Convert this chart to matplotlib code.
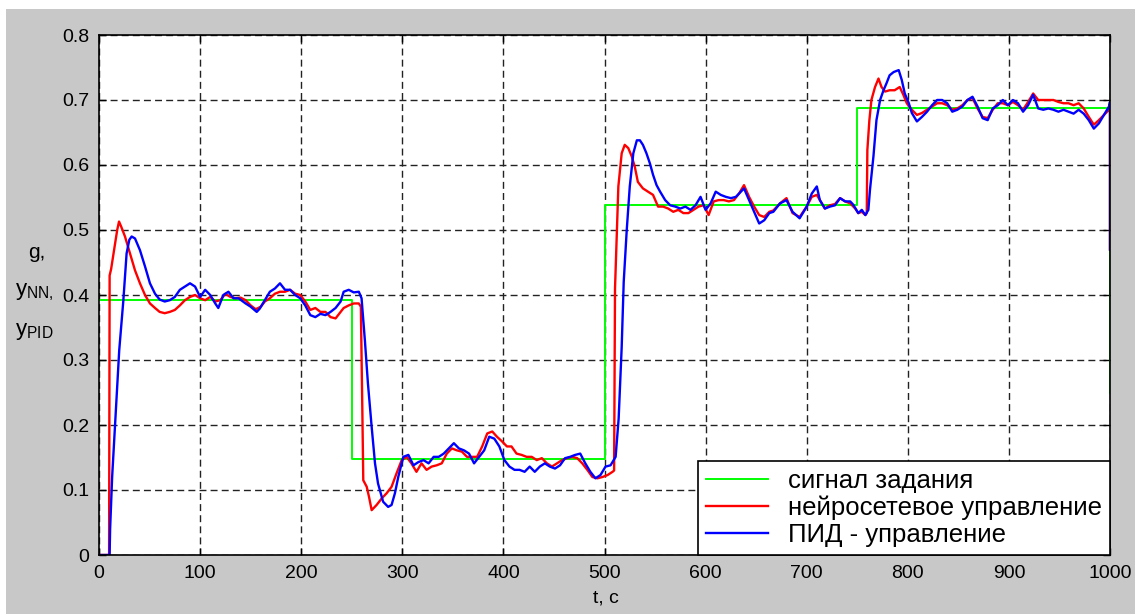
import numpy as np
import matplotlib
matplotlib.use('Agg')
import matplotlib.pyplot as plt
from matplotlib.patches import Rectangle

plt.rcParams['font.family'] = ['Liberation Sans', 'DejaVu Sans']

# setpoint (сигнал задания), step function
t_sp = [0, 250, 500, 750, 1000]
y_sp = [0.392, 0.148, 0.538, 0.688, 0.25]

# neural-network control response
t_nn = [0, 10, 10.5, 12, 14, 16, 18, 19.8, 22, 25.7, 30.7, 35.6, 40.5, 45.5, 50.4, 55.4,
        60, 65, 70, 75, 80, 85, 90, 95, 100, 105, 110, 115, 120, 125, 130, 135, 140, 145,
        150, 155, 160, 164, 169, 174, 179, 184, 189, 194, 199, 204, 209, 214, 219, 224,
        229, 234, 239, 242, 247, 252, 257, 259, 259.8, 260.5, 261.4, 264.8, 267, 269.7,
        274.6, 279.6, 284.5, 289.4, 294.4, 299.4, 304.3, 309, 314, 319, 324, 329, 334,
        339, 344, 349, 354, 359, 364, 369, 374, 379, 384, 389, 393.6, 398.5, 403.5, 408,
        413, 418, 423, 428, 433, 438, 443, 448, 453, 458, 463, 468, 473, 478, 483, 488,
        493, 498, 503, 508, 509.5, 510.4, 513.7, 517, 520, 523.5, 527, 530, 533, 538,
        543, 548, 553, 558, 563, 568, 573, 578, 583, 588, 593, 598, 603, 608, 613, 618,
        623, 628, 633, 638, 643, 648, 653, 658, 663, 667, 673.6, 680, 686, 693, 700, 705,
        710, 713, 718, 723, 728, 733, 738, 743, 748, 751, 754.5, 758, 759.4, 760, 762,
        764, 767.6, 771, 774, 777.5, 782, 787, 792, 795.6, 799, 804, 809, 814, 819, 824,
        829, 834, 839, 844, 849, 854, 859, 864, 869, 874, 879, 884, 889, 894, 899, 904,
        909, 914, 919, 924, 929, 934, 939, 944, 949, 954, 959, 964, 969, 974, 979, 984,
        989, 994, 999, 1000, 1000]
y_nn = [0, 0, 0.43, 0.44, 0.46, 0.48, 0.50, 0.513, 0.505, 0.49, 0.464, 0.438, 0.418, 0.40,
        0.387, 0.38, 0.374, 0.372, 0.374, 0.377, 0.384, 0.392, 0.397, 0.40, 0.395, 0.392,
        0.397, 0.39, 0.392, 0.402, 0.397, 0.395, 0.396, 0.392, 0.384, 0.378, 0.382, 0.39,
        0.395, 0.402, 0.405, 0.405, 0.408, 0.402, 0.40, 0.39, 0.377, 0.38, 0.374, 0.374,
        0.366, 0.364, 0.374, 0.38, 0.384, 0.387, 0.387, 0.382, 0.30, 0.22, 0.115, 0.105,
        0.09, 0.069, 0.077, 0.087, 0.095, 0.105, 0.126, 0.146, 0.151, 0.141, 0.128, 0.141,
        0.131, 0.136, 0.138, 0.141, 0.156, 0.164, 0.161, 0.159, 0.151, 0.151, 0.151, 0.167,
        0.187, 0.19, 0.182, 0.175, 0.167, 0.167, 0.156, 0.154, 0.151, 0.151, 0.146, 0.149,
        0.141, 0.136, 0.141, 0.146, 0.149, 0.151, 0.149, 0.141, 0.131, 0.12, 0.118, 0.12,
        0.123, 0.128, 0.13, 0.41, 0.567, 0.618, 0.631, 0.626, 0.613, 0.597, 0.574, 0.564,
        0.559, 0.554, 0.536, 0.536, 0.533, 0.528, 0.531, 0.526, 0.526, 0.531, 0.536, 0.538,
        0.523, 0.544, 0.546, 0.546, 0.544, 0.546, 0.556, 0.569, 0.551, 0.536, 0.523, 0.52,
        0.528, 0.53, 0.541, 0.549, 0.526, 0.52, 0.536, 0.551, 0.554, 0.546, 0.533, 0.538,
        0.54, 0.549, 0.544, 0.541, 0.533, 0.526, 0.528, 0.523, 0.526, 0.623, 0.669, 0.70,
        0.72, 0.733, 0.72, 0.713, 0.715, 0.715, 0.72, 0.708, 0.695, 0.685, 0.677, 0.68,
        0.685, 0.69, 0.695, 0.695, 0.692, 0.685, 0.687, 0.692, 0.70, 0.703, 0.687, 0.674,
        0.672, 0.685, 0.695, 0.695, 0.692, 0.697, 0.692, 0.685, 0.697, 0.71, 0.70, 0.70,
        0.70, 0.70, 0.697, 0.695, 0.695, 0.692, 0.695, 0.687, 0.674, 0.662, 0.669, 0.677,
        0.685, 0.69, 0.47]

# PID control response
t_pid = [0, 10.5, 11, 13, 15.8, 18, 20, 22.4, 24, 27.3, 30, 32.3, 35.6, 40.5, 45.5, 50.4,
         55.4, 60, 65, 70, 75, 80, 85, 90, 95, 100, 105, 110, 115, 118, 123, 128, 133, 138,
         145, 150, 156, 159, 164, 169, 174, 179, 184, 189, 194, 199, 204, 209, 214, 219,
         224, 229, 234, 239, 242, 247, 252, 257, 259.7, 263, 266, 269.7, 273, 276, 281,
         286, 289.4, 292.7, 296, 301, 306, 311, 316, 321, 326, 331, 336, 341, 346, 351,
         356, 361, 366, 371, 376, 381, 386, 391, 396, 401, 406, 411, 416, 421, 426, 431,
         436, 441, 446, 451, 456, 461, 466, 471, 476, 481, 486, 491, 496, 501, 506, 511,
         514, 517, 519, 522, 525, 528.5, 532, 535, 538, 541.5, 545, 548, 551.5, 555, 560,
         565, 570, 575, 580, 585, 590, 595, 600, 605, 610, 615, 620, 625, 630, 635, 638,
         643, 648, 653, 658, 663, 667, 673.6, 680, 686, 693, 700, 705, 710, 713, 718, 723,
         728, 733, 738, 743, 746, 751, 754.5, 758, 761, 762.6, 766, 769, 772.6, 776, 779,
         782, 786, 791, 794, 797, 801, 804, 809, 814, 819, 824, 829, 834, 839, 844, 849,
         854, 859, 864, 869, 874, 879, 884, 889, 894, 899, 904, 909, 914, 919, 924, 929,
         934, 939, 944, 949, 954, 959, 964, 969, 974, 979, 984, 989, 994, 999, 1000, 1000]
y_pid = [0, 0, 0.04, 0.12, 0.197, 0.26, 0.315, 0.36, 0.39, 0.464, 0.485, 0.49, 0.487,
         0.469, 0.444, 0.418, 0.402, 0.393, 0.39, 0.392, 0.397, 0.408, 0.413, 0.418, 0.413,
         0.397, 0.408, 0.40, 0.387, 0.38, 0.40, 0.405, 0.395, 0.395, 0.387, 0.382, 0.374,
         0.379, 0.392, 0.405, 0.41, 0.418, 0.408, 0.408, 0.40, 0.395, 0.384, 0.369, 0.366,
         0.371, 0.369, 0.374, 0.38, 0.39, 0.405, 0.408, 0.404, 0.405, 0.395, 0.33, 0.264,
         0.197, 0.141, 0.11, 0.082, 0.074, 0.077, 0.095, 0.12, 0.151, 0.154, 0.138, 0.143,
         0.146, 0.141, 0.151, 0.151, 0.156, 0.164, 0.172, 0.164, 0.161, 0.156, 0.141, 0.151,
         0.161, 0.182, 0.179, 0.167, 0.146, 0.136, 0.131, 0.131, 0.128, 0.136, 0.128, 0.136,
         0.141, 0.136, 0.133, 0.138, 0.149, 0.151, 0.154, 0.156, 0.141, 0.128, 0.118, 0.123,
         0.136, 0.138, 0.151, 0.21, 0.32, 0.42, 0.50, 0.567, 0.618, 0.638, 0.638, 0.631,
         0.618, 0.602, 0.585, 0.569, 0.559, 0.546, 0.538, 0.536, 0.533, 0.536, 0.531, 0.538,
         0.551, 0.531, 0.541, 0.559, 0.554, 0.551, 0.549, 0.551, 0.559, 0.564, 0.546, 0.528,
         0.51, 0.515, 0.526, 0.528, 0.541, 0.546, 0.528, 0.518, 0.536, 0.556, 0.567, 0.546,
         0.533, 0.536, 0.538, 0.549, 0.544, 0.544, 0.539, 0.526, 0.531, 0.523, 0.531, 0.562,
         0.613, 0.669, 0.70, 0.715, 0.726, 0.738, 0.743, 0.746, 0.731, 0.71, 0.695, 0.68,
         0.667, 0.674, 0.682, 0.692, 0.70, 0.70, 0.695, 0.682, 0.685, 0.69, 0.70, 0.705,
         0.69, 0.672, 0.669, 0.687, 0.692, 0.70, 0.692, 0.70, 0.695, 0.682, 0.692, 0.708,
         0.687, 0.685, 0.687, 0.685, 0.682, 0.685, 0.682, 0.679, 0.685, 0.679, 0.669, 0.656,
         0.664, 0.677, 0.69, 0.697, 0.47]

labels = ['сигнал задания', 'нейросетевое управление', 'ПИД - управление']

W, H = 1135, 614
fig = plt.figure(figsize=(W / 100, H / 100), dpi=100, facecolor='white')
# grey window background (thin white border at top/left as in the screenshot)
fig.patches.append(Rectangle((6 / W, 0), 1 - 6 / W, 1 - 9 / H, transform=fig.transFigure,
                             facecolor='#c8c8c8', edgecolor='none', zorder=-10))

ax = fig.add_axes([99 / W, 1 - 555 / H, (1110 - 99) / W, (555 - 35) / H])
ax.set_facecolor('white')

ax.plot(t_sp, y_sp, color='#00ff00', lw=1.4, drawstyle='steps-post', label=labels[0])
ax.plot(t_nn, y_nn, color='#ff0000', lw=1.7, label=labels[1])
ax.plot(t_pid, y_pid, color='#0000ff', lw=1.7, label=labels[2])

ax.set_xlim(0, 1000)
ax.set_ylim(0, 0.8)
ax.set_xticks(np.arange(0, 1001, 100))
ax.set_yticks(np.arange(0, 0.81, 0.1))
ax.set_yticklabels(['0', '0.1', '0.2', '0.3', '0.4', '0.5', '0.6', '0.7', '0.8'])
ax.grid(True, color='#222222', linestyle=(0, (5, 3)), linewidth=1.0)
ax.tick_params(direction='in', length=5, width=1, labelsize=14, top=True, right=True,
               pad=7, colors='black')
for s in ax.spines.values():
    s.set_linewidth(1.2)
    s.set_color('black')

leg = ax.legend(loc='lower right', borderaxespad=0, fancybox=False, framealpha=1,
                edgecolor='black', fontsize=18.5, handlelength=2.4, labelspacing=0.12,
                borderpad=0.3, handletextpad=0.8)
leg.get_frame().set_linewidth(1.2)

# y label made of three parts, horizontal like the original
fig.text(37 / W, 1 - 252 / H, 'g,', fontsize=15, ha='center', va='center')
fig.text(15 / W, 1 - 292 / H, r'$\mathregular{y_{NN,}}$', fontsize=16, ha='left', va='center')
fig.text(15 / W, 1 - 332 / H, r'$\mathregular{y_{PID}}$', fontsize=16, ha='left', va='center')
fig.text(606 / W, 1 - 598 / H, 't, c', fontsize=14, ha='center', va='center')

fig.savefig('out.png', dpi=100, facecolor=fig.get_facecolor())
